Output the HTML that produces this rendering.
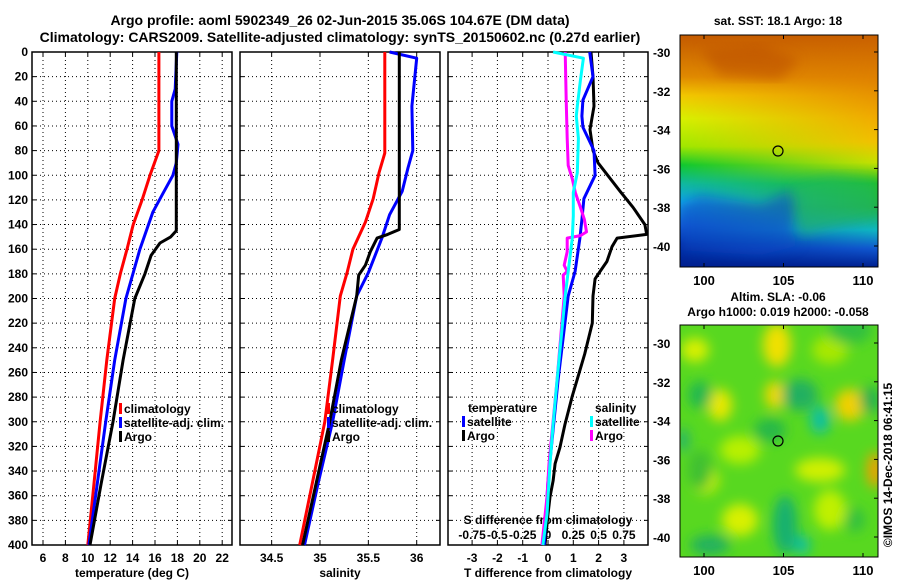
<!DOCTYPE html>
<html><head><meta charset="utf-8"><style>
body{margin:0;background:#fff;}
svg text{font-family:"Liberation Sans",Arial,sans-serif;font-weight:bold;fill:#000;}
</style></head><body>
<svg id="chart" width="900" height="580" viewBox="0 0 900 580" xmlns="http://www.w3.org/2000/svg">
<defs>
<linearGradient id="sstL" x1="0" y1="0" x2="0" y2="1">
<stop offset="0" stop-color="#c45a00"/><stop offset="0.18" stop-color="#e08a00"/><stop offset="0.26" stop-color="#f2c800"/><stop offset="0.36" stop-color="#d8f000"/><stop offset="0.48" stop-color="#a0e800"/><stop offset="0.56" stop-color="#10c830"/><stop offset="0.64" stop-color="#10b8a0"/><stop offset="0.72" stop-color="#10a8e8"/><stop offset="0.82" stop-color="#1060d8"/><stop offset="0.9" stop-color="#0030a8"/><stop offset="1" stop-color="#002090"/>
</linearGradient>
<linearGradient id="sstR" x1="0" y1="0" x2="0" y2="1">
<stop offset="0" stop-color="#c86000"/><stop offset="0.2" stop-color="#e08400"/><stop offset="0.35" stop-color="#f0a800"/><stop offset="0.46" stop-color="#f2c000"/><stop offset="0.55" stop-color="#c8e000"/><stop offset="0.64" stop-color="#20c020"/><stop offset="0.74" stop-color="#20b040"/><stop offset="0.84" stop-color="#10b8c0"/><stop offset="0.92" stop-color="#1058d0"/><stop offset="1" stop-color="#002090"/>
</linearGradient>
<linearGradient id="sstH" x1="0" y1="0" x2="1" y2="0">
<stop offset="0" stop-color="#fff" stop-opacity="0"/><stop offset="1" stop-color="#fff" stop-opacity="1"/>
</linearGradient>
<mask id="sstMask"><rect x="680" y="35" width="198" height="232" fill="url(#sstH)"/></mask>
<filter id="blur"><feGaussianBlur stdDeviation="6"/></filter>
<clipPath id="slaClip"><rect x="681" y="325" width="197" height="232"/></clipPath>
<clipPath id="sstClip"><rect x="681" y="35" width="197" height="232"/></clipPath>
</defs>
<g id="plots"></g>
</svg>
<script>
const NS="http://www.w3.org/2000/svg";
const svg=document.getElementById('plots');

// ---- data ----
const tempTicks=[6,8,10,12,14,16,18,20,22];
const salTicks=[34.5,35,35.5,36];
const diffTTicks=[-3,-2,-1,0,1,2,3];
const diffSTicks=[-0.75,-0.5,-0.25,0,0.25,0.5,0.75];
const diffSLabels=["-0.75","-0.5","-0.25","0","0.25","0.5","0.75"];
const depthTicks=[0,20,40,60,80,100,120,140,160,180,200,220,240,260,280,300,320,340,360,380,400];

const climTDepth=[0,80,100,120,140,160,180,200,250,300,350,400];
const climTVal=[16.35,16.35,15.55,14.85,14.05,13.5,12.9,12.4,11.7,11.1,10.55,10.0];
const satTDepth=[0,30,40,60,75,90,100,115,130,160,200,250,300,350,400];
const satTVal=[17.95,17.8,17.5,17.5,18.05,17.9,17.6,16.7,15.8,14.65,13.4,12.4,11.6,10.85,10.1];
const argoTDepth=[0,145,150,155,165,180,200,250,300,350,400];
const argoTVal=[17.9,17.9,17.4,16.45,15.65,15.1,14.2,13.15,12.25,11.2,10.2];

const climSDepth=[0,82,98,119,138,160,179,198,250,300,350,400];
const climSVal=[35.67,35.67,35.61,35.55,35.47,35.34,35.28,35.21,35.13,35.05,34.92,34.79];
const satSDepth=[0,5,44,80,94,113,132,151,179,198,250,300,350,400];
const satSVal=[35.72,36.0,35.95,35.96,35.91,35.85,35.72,35.64,35.5,35.38,35.25,35.13,34.98,34.84];
const argoSDepth=[0,144,148,151,162,173,181,198,250,300,350,400];
const argoSVal=[35.82,35.82,35.7,35.59,35.52,35.47,35.40,35.38,35.22,35.1,34.96,34.82];

const dTsatDepth=[0,20,39,52,61,80,100,119,136,151,178,198,266,348,400];
const dTsatVal=[1.65,1.78,1.38,1.34,1.38,1.82,1.86,1.42,1.34,1.26,1.07,0.8,0.4,0.0,-0.15];
const dTargoDepth=[0,20,44,63,80,90,113,126,140,148,151,158,170,178,184,198,220,245,266,280,302,321,334,348,361,375,400];
const dTargoVal=[1.7,1.78,1.82,1.66,1.78,1.98,2.85,3.36,3.83,3.9,2.73,2.53,2.33,2.06,1.86,1.78,1.75,1.45,1.15,0.95,0.67,0.47,0.28,0.2,0.08,0.0,-0.12];
const dSsatDepth=[0,5,23,44,52,70,98,114,133,151,178,198,266,302,334,375,400];
const dSsatVal=[0.05,0.35,0.32,0.29,0.28,0.30,0.29,0.25,0.25,0.24,0.2,0.17,0.09,0.05,0.02,-0.01,-0.05];
const dSargoDepth=[0,39,70,92,103,114,126,136,146,149,151,162,173,178,181,198,266,334,361,400];
const dSargoVal=[0.17,0.18,0.19,0.2,0.24,0.27,0.32,0.36,0.38,0.32,0.19,0.19,0.16,0.19,0.15,0.16,0.09,0.01,-0.01,-0.06];

// ---- scales ----
const Y0=52,Y1=545;
const yD=d=>Y0+d*(Y1-Y0)/400;
const xT=t=>43+(t-6)*11.2;
const xS=s=>320+(s-35)*96.7;
const xDT=t=>548+t*25.3;
const xDS=s=>548+s*101.2;

function el(tag,attrs,parent){const e=document.createElementNS(NS,tag);for(const k in attrs)e.setAttribute(k,attrs[k]);(parent||svg).appendChild(e);return e;}
function txt(x,y,s,anchor,size,parent){const t=el('text',{x:x,y:y,'text-anchor':anchor||'middle','font-size':size||12},parent);t.textContent=s;return t;}

function panel(name,x0,x1,vticks,xf){
  const g=el('g',{});
  
  
  depthTicks.forEach(d=>{const y=yD(d);
    el('line',{x1:x0,x2:x1,y1:y,y2:y,stroke:'#000','stroke-width':1,'stroke-dasharray':'1 3'},g);
    el('line',{x1:x0,x2:x0+4,y1:y,y2:y,stroke:'#000'},g);
    el('line',{x1:x1-4,x2:x1,y1:y,y2:y,stroke:'#000'},g);});
  vticks.forEach(v=>{const x=xf(v);
    el('line',{x1:x,x2:x,y1:Y0,y2:Y1,stroke:'#000','stroke-width':1,'stroke-dasharray':'1 3'},g);
    el('line',{x1:x,x2:x,y1:Y0,y2:Y0+4,stroke:'#000'},g);
    el('line',{x1:x,x2:x,y1:Y1-4,y2:Y1,stroke:'#000'},g);});
  el('rect',{x:x0,y:Y0,width:x1-x0,height:Y1-Y0,fill:'none',stroke:'#000','stroke-width':1.5},g);
  return g;
}
function series(name,depths,vals,xf,color,w){
  const pts=depths.map((d,i)=>xf(vals[i]).toFixed(1)+','+yD(d).toFixed(1)).join(' ');
  const p=el('polyline',{points:pts,fill:'none',stroke:color,'stroke-width':w||3,'stroke-linejoin':'round'});
  
  
}
function legend(x,y,color,label){
  el('rect',{x:x,y:y-10,width:3,height:11,fill:color});
  const t=txt(x+5,y,label,'start',12);
  
  
}

// titles
let t1=txt(340,25,'Argo profile: aoml 5902349_26 02-Jun-2015 35.06S 104.67E (DM data)','middle',14);


let t2=txt(340,42,'Climatology: CARS2009. Satellite-adjusted climatology: synTS_20150602.nc (0.27d earlier)','middle',14);



// depth labels
depthTicks.forEach(d=>{const t=txt(28,yD(d)+4,String(d),'end',12);
  
  });

// panel 1
panel('temperature-panel',32,232,tempTicks,xT);
tempTicks.forEach(v=>txt(xT(v),562,String(v)));
txt(132,577,'temperature (deg C)');
series('temp-climatology',climTDepth,climTVal,xT,'#ff0000');
series('temp-satellite-adj',satTDepth,satTVal,xT,'#0000ff');
series('temp-argo',argoTDepth,argoTVal,xT,'#000000');
legend(119,413,'#ff0000','climatology');
legend(119,427,'#0000ff','satellite-adj. clim.');
legend(119,441,'#000000','Argo');

// panel 2
panel('salinity-panel',240,440,salTicks,xS);
salTicks.forEach(v=>txt(xS(v),562,String(v)));
txt(340,577,'salinity');
series('sal-climatology',climSDepth,climSVal,xS,'#ff0000');
series('sal-satellite-adj',satSDepth,satSVal,xS,'#0000ff');
series('sal-argo',argoSDepth,argoSVal,xS,'#000000');
legend(327,413,'#ff0000','climatology');
legend(327,427,'#0000ff','satellite-adj. clim.');
legend(327,441,'#000000','Argo');

// panel 3
panel('difference-panel',448,648,diffTTicks,xDT);
diffTTicks.forEach(v=>txt(xDT(v),562,String(v)));
txt(548,577,'T difference from climatology');
txt(548,524,'S difference from climatology');
diffSTicks.forEach((v,i)=>txt(xDS(v),539,diffSLabels[i]));
series('dT-argo',dTargoDepth,dTargoVal,xDT,'#000000');
series('dT-satellite',dTsatDepth,dTsatVal,xDT,'#0000ff');
series('dS-argo',dSargoDepth,dSargoVal,xDS,'#ff00ff');
series('dS-satellite',dSsatDepth,dSsatVal,xDS,'#00ffff');
txt(468,412,'temperature','start',12);
legend(462,426,'#0000ff','satellite');
legend(462,440,'#000000','Argo');
txt(595,412,'salinity','start',12);
legend(590,426,'#00ffff','satellite');
legend(590,440,'#ff00ff','Argo');

// ---- maps ----
const lonTicks=[100,105,110];
const latTicks=[-30,-32,-34,-36,-38,-40];
const lonX=l=>704+(l-100)*15.9;
const latYTop=l=>52+(-30-l)*19.4;
const latYBot=l=>343+(-30-l)*19.4;

const m1=el('g',{});


el('rect',{x:680,y:35,width:198,height:232,fill:'url(#sstL)'},m1);
el('rect',{x:680,y:35,width:198,height:232,fill:'url(#sstR)',mask:'url(#sstMask)'},m1);
const sb=el('g',{'clip-path':'url(#sstClip)'},m1);
el('path',{d:'M680 205 L700 195 L760 205 L790 190 L800 200 L790 230 L800 245 L760 255 L680 250 Z',fill:'#1048c8',opacity:0.55,filter:'url(#blur)'},sb);
el('path',{d:'M790 185 L830 175 L878 180 L878 215 L840 225 L800 235 Z',fill:'#20b860',opacity:0.6,filter:'url(#blur)'},sb);
el('path',{d:'M700 50 L760 45 L800 60 L780 80 L720 75 Z',fill:'#b84800',opacity:0.5,filter:'url(#blur)'},sb);
el('rect',{x:680,y:35,width:198,height:232,fill:'none',stroke:'#000'},m1);
el('circle',{cx:778,cy:151,r:5,fill:'none',stroke:'#000','stroke-width':1.2},m1);
lonTicks.forEach(l=>{txt(lonX(l),285,String(l),'middle',13);
  el('line',{x1:lonX(l),x2:lonX(l),y1:35,y2:39,stroke:'#000'});
  el('line',{x1:lonX(l),x2:lonX(l),y1:263,y2:267,stroke:'#000'});});
latTicks.forEach(l=>{txt(653,latYTop(l)+5,String(l),'start',12);
  el('line',{x1:874,x2:878,y1:latYTop(l),y2:latYTop(l),stroke:'#000'});});
txt(778,25,'sat. SST: 18.1 Argo: 18','middle',12);

const m2=el('g',{});


el('rect',{x:680,y:325,width:198,height:232,fill:'#58d820'},m2);
const bl=el('g',{'clip-path':'url(#slaClip)',filter:'url(#blur)'},m2);
[[695,350,14,12,'#d8f000'],[777,345,14,22,'#f0e000'],[830,350,18,14,'#a8e800'],[720,405,12,16,'#e8e800'],[775,395,10,14,'#f0d800'],[850,405,15,16,'#f0d000'],[875,470,8,18,'#f0a000'],[740,450,20,14,'#b8f000'],[820,470,25,12,'#d0f000'],[740,520,18,16,'#d8f000'],[830,510,16,20,'#c0f000'],[705,480,14,14,'#c8f000'],
 [700,395,12,14,'#20b850'],[800,395,18,16,'#20b060'],[820,420,10,14,'#10c0a0'],[770,430,16,12,'#28b848'],[785,525,12,30,'#18b070'],[802,545,8,10,'#10c0a0'],[710,545,20,10,'#20b060'],[850,330,22,14,'#30c040'],[870,400,10,14,'#20b050'],[683,440,6,12,'#20b070'],[700,470,12,20,'#40c030'],[855,520,10,12,'#30c040']]
.forEach(b=>el('ellipse',{cx:b[0],cy:b[1],rx:b[2],ry:b[3],fill:b[4]},bl));
el('rect',{x:680,y:325,width:198,height:232,fill:'none',stroke:'#000'},m2);
el('circle',{cx:778,cy:441,r:5,fill:'none',stroke:'#000','stroke-width':1.2},m2);
lonTicks.forEach(l=>{txt(lonX(l),575,String(l),'middle',13);
  el('line',{x1:lonX(l),x2:lonX(l),y1:325,y2:329,stroke:'#000'});
  el('line',{x1:lonX(l),x2:lonX(l),y1:553,y2:557,stroke:'#000'});});
latTicks.forEach(l=>{txt(653,latYBot(l)+5,String(l),'start',12);
  el('line',{x1:874,x2:878,y1:latYBot(l),y2:latYBot(l),stroke:'#000'});});
txt(778,301,'Altim. SLA: -0.06','middle',12);
txt(778,316,'Argo h1000: 0.019 h2000: -0.058','middle',12);
const cr=txt(0,0,'©IMOS 14-Dec-2018 06:41:15','middle',12);
cr.setAttribute('transform','translate(892,465) rotate(-90)');
cr.setAttribute('font-weight','normal');


</script>
</body></html>
